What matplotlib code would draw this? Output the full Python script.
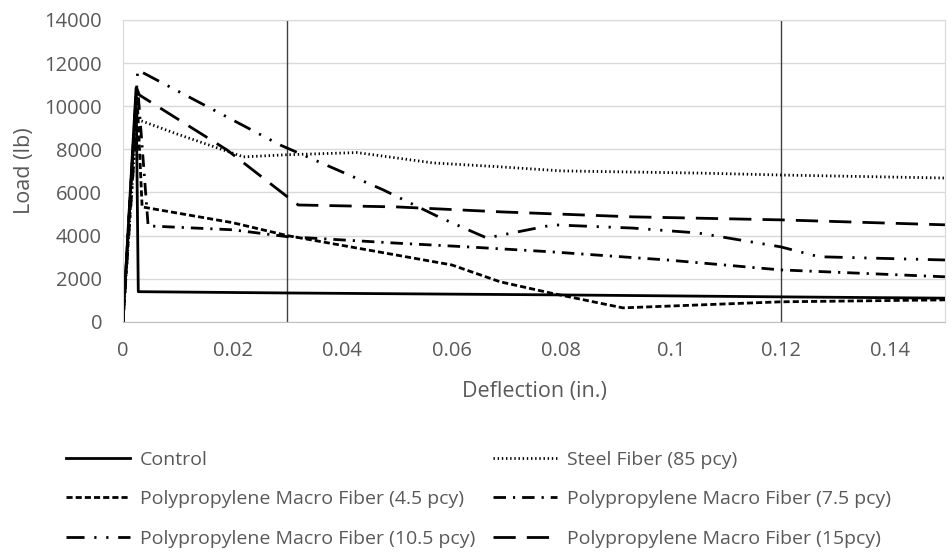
import matplotlib
matplotlib.use("Agg")
from matplotlib import pyplot as plt

# deflection (in.) / load (lb)
control_x = [0, 0.0024, 0.0028, 0.03, 0.08, 0.12, 0.15]
control_y = [0, 10850, 1400, 1340, 1250, 1160, 1100]

steel_x = [0, 0.0025, 0.01, 0.022, 0.03, 0.0427, 0.0566, 0.0688, 0.08, 0.105, 0.12, 0.15]
steel_y = [0, 9400, 8700, 7650, 7750, 7850, 7370, 7190, 7000, 6900, 6810, 6670]

pp45_x = [0, 0.0025, 0.0035, 0.02, 0.03, 0.06, 0.0688, 0.078, 0.0912, 0.12, 0.15]
pp45_y = [0, 10900, 5330, 4600, 4000, 2640, 1860, 1340, 650, 930, 1020]

pp75_x = [0, 0.0028, 0.0046, 0.02, 0.03, 0.04, 0.05, 0.0627, 0.078, 0.0993, 0.12, 0.15]
pp75_y = [0, 10500, 4450, 4270, 3950, 3800, 3650, 3480, 3250, 2870, 2410, 2090]

pp105_x = [0, 0.0027, 0.0287, 0.0475, 0.058, 0.0664, 0.0785, 0.093, 0.105, 0.12, 0.127, 0.15]
pp105_y = [0, 11680, 8200, 6120, 4820, 3890, 4500, 4350, 4120, 3480, 3020, 2870]

pp15_x = [0, 0.0025, 0.003, 0.019, 0.03, 0.032, 0.05, 0.069, 0.093, 0.12, 0.15]
pp15_y = [0, 10850, 10520, 7970, 5800, 5420, 5330, 5100, 4870, 4730, 4500]

labels = ["Control", "Steel Fiber (85 pcy)",
          "Polypropylene Macro Fiber (4.5 pcy)", "Polypropylene Macro Fiber (7.5 pcy)",
          "Polypropylene Macro Fiber (10.5 pcy)", "Polypropylene Macro Fiber (15pcy)"]

xticks = [0, 0.02, 0.04, 0.06, 0.08, 0.1, 0.12, 0.14]
xticklabels = ["0", "0.02", "0.04", "0.06", "0.08", "0.1", "0.12", "0.14"]
yticks = [0, 2000, 4000, 6000, 8000, 10000, 12000, 14000]
limit_lines = [0.03, 0.12]

plt.rcParams['font.family'] = ['Open Sans', 'DejaVu Sans']
plt.rcParams['font.size'] = 14

txt = "#595959"
fig = plt.figure(figsize=(9.53, 5.54), dpi=100)
ax = fig.add_axes([0.129, 0.419, 0.8626, 0.545])

lw = 2.0
h_control, = ax.plot(control_x, control_y, color="black", lw=lw, ls="-")
h_steel, = ax.plot(steel_x, steel_y, color="black", lw=lw, ls=(0, (0.5, 1.0)))
h_45, = ax.plot(pp45_x, pp45_y, color="black", lw=lw, ls=(0, (2.2, 1.1)))
h_75, = ax.plot(pp75_x, pp75_y, color="black", lw=lw, ls=(0, (4.5, 2.5, 0.8, 2.5)))
h_105, = ax.plot(pp105_x, pp105_y, color="black", lw=lw, ls=(0, (6.5, 3.5, 0.8, 3.5, 0.8, 3.5)))
h_15, = ax.plot(pp15_x, pp15_y, color="black", lw=lw, ls=(0, (8, 4)))

for xv in limit_lines:
    ax.axvline(xv, color="#404040", lw=1.0, zorder=1)

ax.set_xlim(0, 0.15)
ax.set_ylim(0, 14000)
ax.set_xticks(xticks)
ax.set_xticklabels(xticklabels)
ax.set_yticks(yticks)
ax.tick_params(length=0, colors=txt, labelsize=14.5)
ax.tick_params(axis="x", pad=14)
ax.tick_params(axis="y", pad=15)
ax.grid(axis="y", color="#d9d9d9", lw=1.0)
ax.set_axisbelow(True)
for s in ax.spines.values():
    s.set_color("#d9d9d9")
ax.spines["bottom"].set_color("#bfbfbf")

ax.set_xlabel("Deflection (in.)", color=txt, fontsize=15.5, labelpad=14)
ax.set_ylabel("Load (lb)", color=txt, fontsize=15.5, labelpad=7)

handles = [h_control, h_45, h_105, h_steel, h_75, h_15]
order = [labels[0], labels[2], labels[4], labels[1], labels[3], labels[5]]
leg = fig.legend(handles, order, ncol=2, loc="upper left", bbox_to_anchor=(0.051, 0.218),
                 frameon=False, handlelength=3.3, handletextpad=0.5, columnspacing=0.9,
                 labelspacing=1.1, fontsize=14)
for t in leg.get_texts():
    t.set_color(txt)

fig.savefig("out.png", dpi=100)
